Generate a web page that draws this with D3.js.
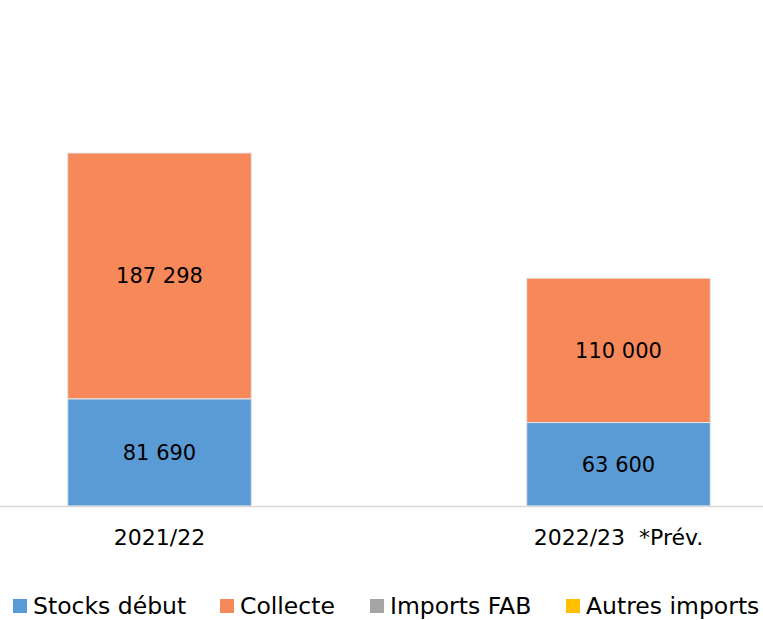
<!DOCTYPE html>
<html>
<head>
<meta charset="utf-8">
<script src="https://cdn.jsdelivr.net/npm/d3@7"></script>
<style>
  body { margin: 0; background: #fff; }
  text { font-family: "DejaVu Sans", "Noto Sans", sans-serif; fill: #000; }
</style>
</head>
<body>
<div id="chart"></div>
<script>
var categories = ["2021/22", "2022/23  *Prév."];
var seriesNames = ["Stocks début", "Collecte", "Imports FAB", "Autres imports"];
var stocksDebut = [81690, 63600];
var collecte = [187298, 110000];
var importsFab = [0, 0];
var autresImports = [0, 0];
var colours = ["#5B9BD5", "#F7885A", "#A5A5A5", "#FFC000"];

var width = 763, height = 620;

var svg = d3.select("#chart").append("svg")
    .attr("width", width)
    .attr("height", height);

// build rows for the stack
var rows = categories.map(function (c, i) {
    return {
        cat: c,
        "Stocks début": stocksDebut[i],
        "Collecte": collecte[i],
        "Imports FAB": importsFab[i],
        "Autres imports": autresImports[i]
    };
});

var x = d3.scaleBand()
    .domain(categories)
    .range([-70, 848])
    .paddingInner(0.6)
    .paddingOuter(0.3);

var y = d3.scaleLinear()
    .domain([0, 400000])
    .range([506, 506 - 400000 / 762]);

var colour = d3.scaleOrdinal().domain(seriesNames).range(colours);

var fr = d3.formatLocale({ decimal: ",", thousands: " ", grouping: [3], currency: ["", " €"] });
var fmt = fr.format(",d");

var stacked = d3.stack().keys(seriesNames)(rows);

var layers = svg.selectAll(".layer")
    .data(stacked)
    .enter().append("g")
    .attr("class", "layer")
    .attr("fill", function (d) { return colour(d.key); });

layers.selectAll("rect")
    .data(function (d) { return d.filter(function (p) { return p[1] > p[0]; }); })
    .enter().append("rect")
    .attr("x", function (d) { return x(d.data.cat); })
    .attr("y", function (d) { return y(d[1]); })
    .attr("width", x.bandwidth())
    .attr("height", function (d) { return y(d[0]) - y(d[1]); })
    .attr("stroke", "#e6e6e6")
    .attr("stroke-width", 1);

// value labels
layers.selectAll("text")
    .data(function (d) { return d.filter(function (p) { return p[1] > p[0]; }); })
    .enter().append("text")
    .attr("x", function (d) { return x(d.data.cat) + x.bandwidth() / 2; })
    .attr("y", function (d) { return (y(d[0]) + y(d[1])) / 2; })
    .attr("dy", "0.35em")
    .attr("text-anchor", "middle")
    .style("font-size", "21px")
    .text(function (d) { return fmt(d[1] - d[0]); });

// category axis
svg.append("line")
    .attr("x1", 0).attr("x2", width)
    .attr("y1", y(0) + 0.5).attr("y2", y(0) + 0.5)
    .attr("stroke", "#d9d9d9")
    .attr("stroke-width", 1.5);

svg.selectAll(".cat-label")
    .data(categories)
    .enter().append("text")
    .attr("class", "cat-label")
    .attr("x", function (d) { return x(d) + x.bandwidth() / 2; })
    .attr("y", 537)
    .attr("dy", "0.35em")
    .attr("text-anchor", "middle")
    .style("font-size", "22px")
    .style("white-space", "pre")
    .text(function (d) { return d; });

// legend
var legendX = [13, 220, 370, 566];
var legend = svg.selectAll(".legend")
    .data(seriesNames)
    .enter().append("g")
    .attr("class", "legend")
    .attr("transform", function (d, i) { return "translate(" + legendX[i] + ",606)"; });

legend.append("rect")
    .attr("x", 0).attr("y", -7)
    .attr("width", 14).attr("height", 14)
    .attr("fill", function (d) { return colour(d); });

legend.append("text")
    .attr("x", 20)
    .attr("dy", "0.35em")
    .style("font-size", "23.5px")
    .text(function (d) { return d; });
</script>
</body>
</html>
